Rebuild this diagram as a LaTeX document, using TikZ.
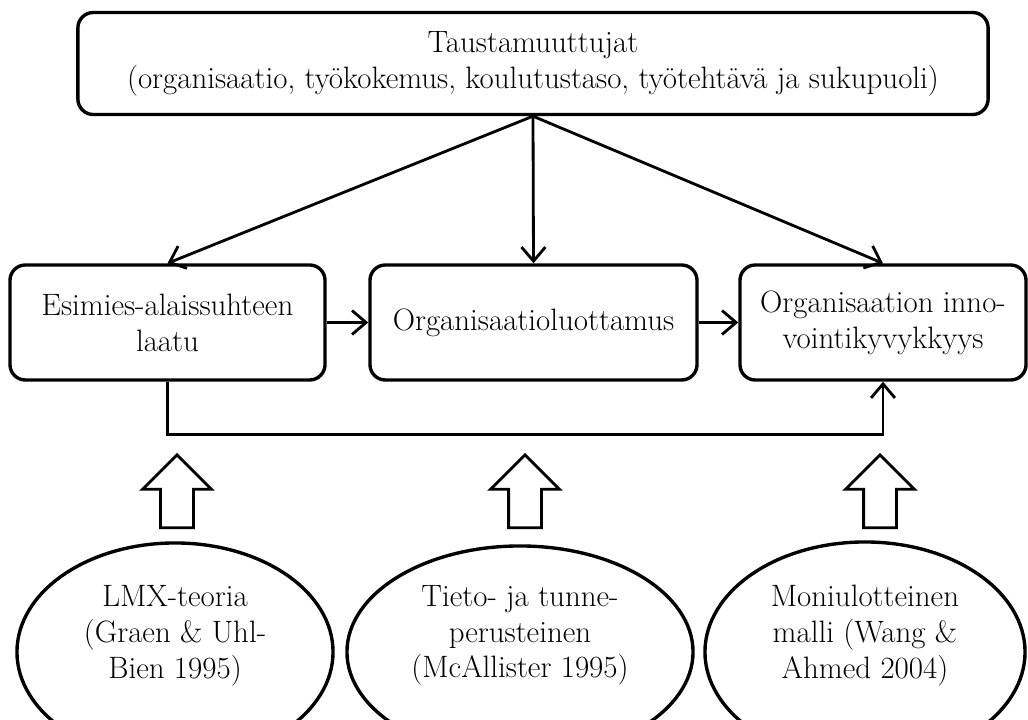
\documentclass[tikz,border=0pt]{standalone}
\usetikzlibrary{arrows.meta, positioning, shapes.geometric, shapes.arrows}
\tikzset{
  txtfont/.style = {font=\fontsize{22}{25.5}\selectfont},
  box/.style = {txtfont, draw=black, line width=2.4pt, rounded corners=11pt,
    align=center, inner sep=0pt},
  ell/.style = {txtfont, ellipse, draw=black, line width=2.4pt, align=center,
    inner sep=0pt, text depth=29pt},
  uparrow/.style = {single arrow, draw=black, line width=2pt,
    shape border rotate=90, minimum height=1.825cm, minimum width=1.65cm,
    single arrow head extend=0.45cm, inner sep=0.375cm},
  conn/.style = {line width=2pt, -{Straight Barb[length=10pt, width=17pt, line width=2pt]}},
}

\begin{document}
\begin{tikzpicture}[x=0.025cm, y=-0.025cm]
\useasboundingbox (0,0) rectangle (1028,720);

\node [box, minimum width=22.75cm, minimum height=2.55cm] (tausta) at (533,63.5)
  {Taustamuuttujat\\(organisaatio, työkokemus, koulutustaso, työtehtävä ja sukupuoli)};

\node [box, minimum width=7.875cm, minimum height=2.875cm] (lmx) at (167.5,322.5)
  {Esimies-alaissuhteen\\laatu};
\node [box, minimum width=8.175cm, minimum height=2.875cm] (luott) at (533.5,322.5)
  {Organisaatioluottamus};
\node [box, minimum width=7.15cm, minimum height=2.875cm] (innov) at (883,322.5)
  {Organisaation inno-\\vointikyvykkyys};

\draw [conn] (tausta.south) -- (lmx.north);
\draw [conn] (tausta.south) -- (luott.north);
\draw [conn] (tausta.south) -- (innov.north);
\draw [conn] (lmx) -- (luott);
\draw [conn] (luott) -- (innov);
\draw [conn] (lmx.south) -- ++(0,53) -| (innov.south);

\node [uparrow] (nuoli1) at (177,499.5) {};
\node [uparrow] (nuoli2) at (525,499.5) {};
\node [uparrow] (nuoli3) at (880,499.5) {};

\node [ell, minimum width=7.9cm, minimum height=5.45cm] (teoria1) at (175,652)
  {LMX-teoria\\(Graen \& Uhl-\\Bien 1995)};
\node [ell, minimum width=8.65cm, minimum height=5.3cm] (teoria2) at (520,652)
  {Tieto- ja tunne-\\perusteinen\\(McAllister 1995)};
\node [ell, minimum width=8cm, minimum height=5.5cm] (teoria3) at (865,652)
  {Moniulotteinen\\malli (Wang \&\\Ahmed 2004)};
\end{tikzpicture}
\end{document}
